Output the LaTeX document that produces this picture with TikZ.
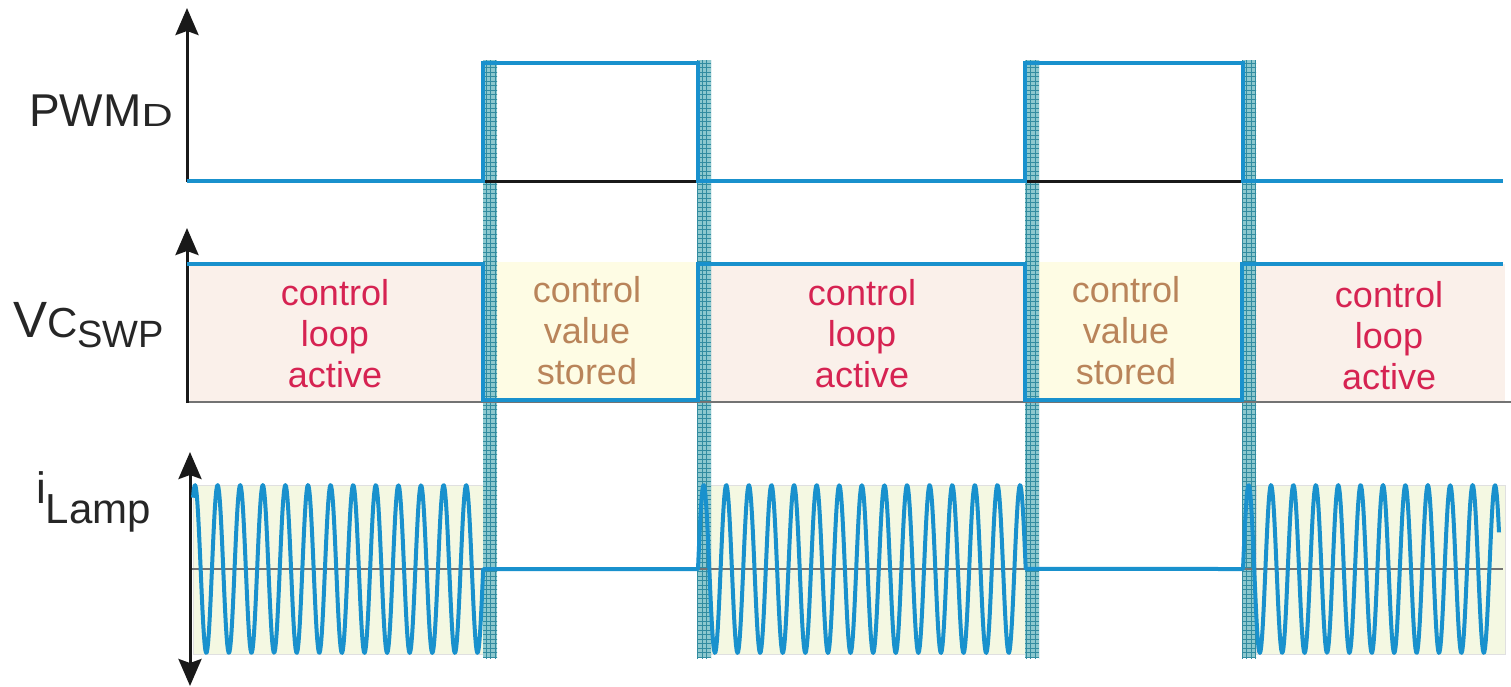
\documentclass[tikz,border=0pt]{standalone}
\usepackage{graphicx}
\usepackage{fontspec}
\setmainfont{Liberation Sans}
\usetikzlibrary{arrows.meta}

\definecolor{sigblue}{RGB}{25,145,205}
\definecolor{activefill}{RGB}{250,240,234}
\definecolor{storedfill}{RGB}{254,252,228}
\definecolor{lampfill}{RGB}{244,248,226}
\definecolor{activered}{RGB}{214,35,82}
\definecolor{storedbrown}{RGB}{185,132,90}
\definecolor{barfill}{RGB}{140,200,206}
\definecolor{bargrid}{RGB}{50,140,160}

\begin{document}
\begin{tikzpicture}[
  x=1pt,
  y=-1pt,
  axis/.style={
    line width=3pt,
    black!90,
    -{Stealth[length=27pt,width=23pt,inset=4pt]}
  },
  signal/.style={line width=4pt, sigblue},
  wave/.style={line width=4pt, sigblue, line join=round},
  zeroline/.style={line width=1.6pt, black!55},
  labeltext/.style={text=black!85, inner sep=0pt},
  activetext/.style={
    text=activered,
    font=\fontsize{36}{41}\selectfont,
    align=center
  },
  storedtext/.style={
    text=storedbrown,
    font=\fontsize{36}{41}\selectfont,
    align=center
  },
  holdbar/.style={fill=barfill},
  holdgrid/.style={draw=bargrid, line width=0.9pt, xstep=4.5pt, ystep=4.5pt}
]

% Canvas
\path[use as bounding box] (0,0) rectangle (1511,686);

% Background bands of the control voltage
\fill[activefill] (190,264) rectangle (483,402);
\fill[storedfill] (483,262) rectangle (697,402);
\fill[activefill] (697,264) rectangle (1025,402);
\fill[storedfill] (1025,262) rectangle (1242,402);
\fill[activefill] (1242,264) rectangle (1505,402);

% Envelope bands of the lamp current
\foreach \xa/\xb in {193/483, 710/1025, 1256/1505}
  \filldraw[lampfill, draw=black!12, line width=0.8pt]
    (\xa,485) rectangle (\xb,654);

% Hold bars at the switching edges
\foreach \xa in {483, 697, 1025, 1242} {
  \path[holdbar] (\xa,60) rectangle ++(14,598);
  \begin{scope}
    \clip (\xa,60) rectangle ++(14,598);
    \draw[holdgrid] (\xa-5,55) grid (\xa+20,662);
  \end{scope}
}

% Axes
\coordinate (pwmorigin) at (187,182);
\coordinate (pwmtip) at (187,8);
\coordinate (vcorigin) at (187,403);
\coordinate (vctip) at (187,228);
\coordinate (lamptop) at (190,452);
\coordinate (lampbottom) at (190,686);

\draw[line width=3pt, black!90] (187,181) -- (1503,181);
\draw[line width=1.5pt, black!55] (187,402) -- (1511,402);
\draw[zeroline] (190,569) -- (1503,569);

\draw[axis] (pwmorigin) -- (pwmtip);
\draw[axis] (vcorigin) -- (vctip);
\draw[axis, {Stealth[length=27pt,width=23pt,inset=4pt]}-{Stealth[length=27pt,width=23pt,inset=4pt]}]
  (lampbottom) -- (lamptop);

% PWM signal
\draw[signal] (187,181) -- (483,181) -- (483,63) -- (698,63) -- (698,181)
  -- (1025,181) -- (1025,63) -- (1243,63) -- (1243,181) -- (1503,181);

% Control voltage signal
\draw[signal] (187,264) -- (483,264) -- (483,400) -- (698,400) -- (698,264)
  -- (1025,264) -- (1025,400) -- (1242,400) -- (1242,264) -- (1503,264);

% Lamp current
\draw[wave]
  plot[domain=193:483.15, samples=400] (\x,{569-84*cos(15.929*(\x-195))})
  -- (698,569)
  -- plot[domain=698:1025.7, samples=450] (\x,{569-84*sin(15.929*(\x-698))})
  -- (1243,569)
  -- plot[domain=1243:1499, samples=350] (\x,{569-84*sin(16.071*(\x-1243))});

% Axis labels
\node[labeltext, anchor=base east] (pwmlabel) at (173,126)
  {\fontsize{46}{50}\selectfont PWM\scalebox{1.35}[1]{\fontsize{32}{34}\selectfont D}};
\node[labeltext, anchor=base west] (vclabel) at (13,337)
  {\fontsize{51}{55}\selectfont V\fontsize{42}{45}\selectfont C\raisebox{-10pt}{\fontsize{38}{40}\selectfont SWP}};
\node[labeltext, anchor=base west] (lamplabel) at (36,503)
  {\fontsize{44}{46}\selectfont i\raisebox{-20pt}{\fontsize{42}{44}\selectfont Lamp}};

% Phase labels
\node[activetext] (active1) at (335,334) {control\\loop\\active};
\node[storedtext] (stored1) at (587,331) {control\\value\\stored};
\node[activetext] (active2) at (862,334) {control\\loop\\active};
\node[storedtext] (stored2) at (1126,331) {control\\value\\stored};
\node[activetext] (active3) at (1389,336) {control\\loop\\active};

\end{tikzpicture}
\end{document}
